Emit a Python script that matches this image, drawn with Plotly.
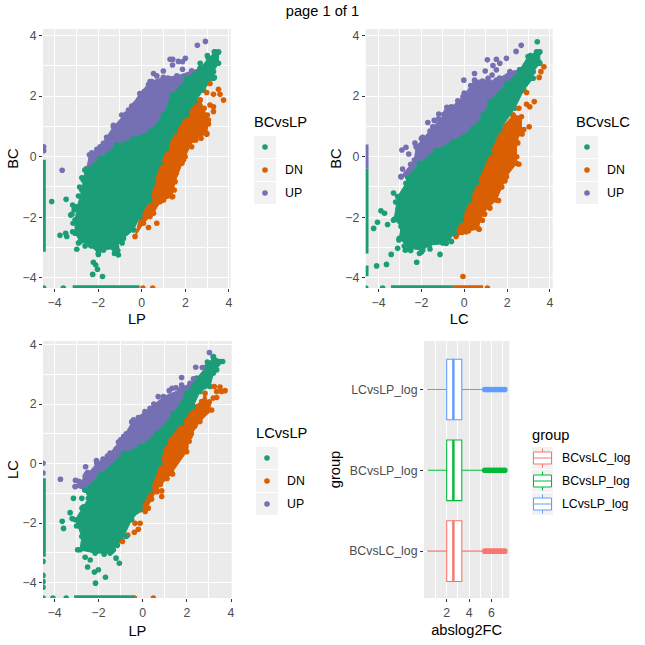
import plotly.graph_objects as go

GREEN, ORANGE, PURPLE = "#1B9E77", "#D95F02", "#7570B3"
TYPE_LABELS = ["", "DN", "UP"]
GROUPS = ["BCvsLC_log", "BCvsLP_log", "LCvsLP_log"]
GROUP_COLORS = ["#F8766D", "#00BA38", "#619CFF"]

# ---- Panel 1: BC vs LP, outlines of the dense clouds and stray points
P1_GREEN_EDGE = [(-2.60,-.44),(-1.91,-.06),(-1.15,.39),(-.38,.61),(.38,.83),(.99,1.38),(1.38,2.04),(2.06,2.59),(2.68,2.92),(3.06,3.25),(3.36,3.47),(3.52,3.47),(3.52,3.09),(3.29,2.81),(3.29,2.59),(2.83,2.20),(2.45,1.82),(2.06,1.38),(1.53,.83),(1.15,.28),(.84,-.22),(.54,-.88),(.38,-1.43),(-.08,-1.98),(-.38,-2.42),(-.84,-2.70),(-1.15,-2.98),(-1.07,-3.25),(-1.30,-3.03),(-1.76,-3.09),(-1.99,-3.20),(-2.37,-2.92),(-2.83,-2.81),(-3.06,-2.53),(-3.06,-2.09),(-2.95,-1.65),(-2.75,-1.10),(-2.68,-.77)]
P1_PURPLE_EDGE = [(-2.52,-.39),(-2.40,.06),(-1.91,.33),(-1.30,.99),(-.61,1.54),(-.08,2.09),(.38,2.48),(.99,2.62),(1.61,2.67),(2.29,2.84),(2.68,2.92),(2.06,2.59),(1.38,2.04),(.99,1.38),(.38,.83),(-.38,.61),(-1.15,.39),(-1.91,-.06)]
P1_ORANGE_EDGE = [(2.68,1.87),(3.06,1.21),(2.98,.77),(2.37,.55),(1.91,-.11),(1.53,-.83),(1.38,-1.32),(.84,-1.49),(.54,-1.87),(.08,-2.20),(-.31,-2.64),(-.08,-1.98),(.38,-1.43),(.54,-.88),(.84,-.22),(1.15,.28),(1.53,.83),(2.06,1.38),(2.45,1.82)]
P1_GREEN_PTS = [(-4.13,-1.48),(-3.47,-1.41),(-3.75,-2.60),(-3.49,-2.53),(-3.44,-2.64),(-3.26,-1.93),(-2.98,-3.06),(-2.22,-3.49),(-2.11,-3.58),(-2.03,-3.72),(-2.25,-3.89),(-1.80,-3.96),(-1.99,-3.23),(-1.22,-3.14),(-3.17,-1.60),(-3.17,-2.48),(3.01,3.34),(3.33,3.47),(3.52,3.45),(2.68,3.09),(3.33,2.62),(-3.6,-4.34),(-4.5,-4.34),
                 (-2.9,-2.85),(-2.6,-2.95),(-2.3,-2.95),(-2.0,-3.05),(-1.75,-2.95),(-1.5,-2.95),(-1.25,-3.2),(-1.1,-3.1),(-.9,-2.85),(-3.15,-2.2),(-3.2,-1.9),(-3.1,-1.75),(-2.9,-1.3),(-2.85,-1.0),(-2.75,-.7)]
P1_PURPLE_PTS = [(2.55,3.68),(2.92,3.81),(1.30,3.22),(1.42,3.22),(1.68,3.15),(1.41,3.03),(2.0,3.25),(1.87,3.14),(1.87,2.89),(.99,2.83),(.54,2.75),(.69,2.67),(-3.65,-.45),(-4.5,.33),(-4.5,.2),
                  (-2.29,.13),(-2.06,.24),(-1.76,.44),(-1.61,.64),(-1.30,1.04),(-.92,1.38),(-.72,1.41),(-.46,1.67),(-.31,1.74),(-.08,2.08),(.11,2.15),(.31,2.38),(.46,2.48),(.69,2.34),(1.2,2.6),(1.4,2.5)]
P1_ORANGE_PTS = [(2.98,2.12),(3.29,2.06),(3.52,2.23),(3.59,2.06),(3.75,1.87),(3.29,1.49),(3.13,2.42),(3.29,1.65),(.69,-2.20),(.31,-2.34),(.05,-4.34),(.50,-4.34),
                  (2.86,1.60),(3.13,1.71),(3.01,1.38),(2.90,1.19),(3.06,1.08),(2.68,.94),(2.98,.74),(2.72,.61),(2.48,.55),(2.29,.33),(2.03,.28),(1.99,0),(1.84,-.22),(1.61,-.22),(1.58,-.55),(1.38,-.83),(1.49,-1.10),(1.42,-1.32),(1.07,-1.27),(1.0,-1.43),(.69,-1.54),(.46,-1.76),(.38,-1.98)]
P1_GREEN_LEFT_RAIL = [(-4.53,-.1),(-4.53,-3.14)]
P1_GREEN_BOTTOM_RAIL = [(-3.17,-4.34),(-.1,-4.34)]

# ---- Panel 2: BC vs LC
P2_GREEN_EDGE = [(-2.64,-.66),(-2.09,-.22),(-1.31,.22),(-.53,.50),(.41,.94),(.88,1.38),(1.19,1.82),(1.97,2.42),(2.59,2.87),(2.98,3.31),(3.38,3.47),(3.53,3.47),(3.53,3.09),(3.22,2.81),(3.22,2.59),(2.78,2.20),(2.36,1.60),(1.66,.88),(1.19,.11),(.56,-.88),(.25,-1.43),(-.14,-2.09),(-.45,-2.53),(-.84,-2.87),(-1.63,-2.92),(-1.94,-3.09),(-2.56,-3.03),(-3.03,-2.70),(-2.95,-2.31),(-3.27,-2.07),(-3.11,-1.32),(-2.72,-.88)]
P2_PURPLE_EDGE = [(-2.95,-.66),(-2.33,-.11),(-2.25,.33),(-1.47,.99),(-.84,1.49),(-.06,1.98),(.48,2.53),(1.50,2.53),(2.13,2.81),(2.59,2.87),(1.97,2.42),(1.19,1.82),(.88,1.38),(.41,.94),(-.53,.50),(-1.31,.22),(-2.09,-.22),(-2.64,-.66)]
P2_ORANGE_EDGE = [(2.28,1.38),(2.67,1.32),(2.67,.83),(2.44,.50),(2.44,-.22),(1.97,-.66),(1.50,-1.43),(.88,-1.87),(.64,-2.37),(.09,-2.48),(-.38,-2.64),(-.45,-2.53),(-.14,-2.09),(.25,-1.43),(.56,-.88),(1.19,.11),(1.66,.88)]
P2_GREEN_PTS = [(-3.89,-1.79),(-3.72,-1.87),(-4.05,-2.17),(-4.23,-2.37),(-3.58,-2.24),(-4.09,-3.61),(-3.63,-3.56),(-3.41,-3.23),(-2.22,-3.49),(-1.13,-3.23),(-2.09,-3.20),(-2.75,-3.09),(-3.11,-3.03),(3.41,3.80),(3.09,3.34),(3.38,3.45),(3.50,3.45),(3.50,3.12),(-3.81,-4.34),(-4.6,-4.34),
                 (-3.2,-1.5),(-3.3,-1.2),(-3.05,-2.75),(-2.8,-2.95),(-2.5,-3.1),(-2.0,-3.15),(-1.6,-3.05),(-1.0,-2.85),(-.6,-2.8),(-3.3,-2.1)]
P2_PURPLE_PTS = [(2.66,3.68),(2.42,3.48),(1.08,3.20),(1.50,3.22),(1.66,3.09),(1.97,3.25),(1.34,3.01),(1.50,2.87),(.98,2.83),(.48,2.75),(-.02,2.53),(1.11,2.59),(-2.91,.22),(-2.72,.31),(-2.59,.09),(-2.88,-.41),(-1.94,.64),(-1.70,1.13),(-.81,1.63),(-1.19,1.41),
                  (-2.3,.45),(-2.0,.6),(-1.6,.85),(-1.4,1.2),(-1.2,1.25),(-.95,1.4),(-.6,1.65),(-.3,1.85),(0,2.1),(.3,2.35),(.6,2.45),(.85,2.5),(1.3,2.7),(1.65,2.6),(2.1,2.7),(-2.5,-.25),(-2.7,-.55)]
P2_ORANGE_PTS = [(3.72,2.97),(3.58,2.81),(3.50,2.62),(2.91,2.12),(3.27,1.82),(2.91,1.73),(3.06,1.65),(3.03,.99),(2.78,.90),(2.55,1.60),(-.06,-3.96),(1.08,-4.34),
                  (2.55,1.25),(2.5,.95),(2.7,.75),(2.35,.65),(2.5,.45),(2.45,.0),(2.55,-.25),(2.2,-.3),(1.9,-.8),(1.75,-1.0),(1.6,-1.45),(1.2,-1.7),(.95,-1.9),(.85,-2.1),(.7,-2.4),(.4,-2.35),(.2,-2.45),(-.1,-2.5)]
P2_GREEN_LEFT_RAIL = [(-4.6,-.4),(-4.6,-3.2)]
P2_GREEN_LEFT_RAIL_LOW = [(-4.6,-3.6),(-4.6,-3.95)]
P2_PURPLE_LEFT_RAIL = [(-4.6,.4),(-4.6,-.4)]
P2_GREEN_BOTTOM_RAIL = [(-3.42,-4.34),(-.53,-4.34)]
P2_ORANGE_BOTTOM_RAIL = [(-.53,-4.34),(.88,-4.34)]

# ---- Panel 3: LC vs LP
P3_GREEN_EDGE = [(-2.61,-.89),(-1.93,-.38),(-.87,.35),(-.12,.57),(.63,1.02),(1.39,1.69),(1.99,2.36),(2.44,2.87),(2.90,3.26),(3.20,3.60),(3.62,3.43),(3.20,3.04),(3.05,2.59),(2.59,2.42),(2.29,1.92),(1.76,1.36),(1.01,.68),(.78,.01),(.33,-.89),(-.12,-1.56),(-.50,-1.89),(-.95,-2.57),(-1.48,-3.01),(-2.16,-3.01),(-2.84,-2.90),(-2.76,-2.45),(-3.06,-1.89),(-2.68,-1.45),(-2.46,-1.17)]
P3_PURPLE_EDGE = [(-3.06,-.77),(-2.61,-.44),(-2.08,.01),(-1.48,.35),(-.87,.91),(-.42,1.47),(.33,1.86),(.94,2.25),(1.69,2.48),(2.14,2.70),(2.44,2.87),(1.99,2.36),(1.39,1.69),(.63,1.02),(-.12,.57),(-.87,.35),(-1.93,-.38),(-2.61,-.89)]
P3_ORANGE_EDGE = [(2.67,2.08),(2.82,2.36),(2.97,1.97),(3.12,1.80),(2.59,1.41),(2.14,.91),(1.99,.40),(1.31,-.32),(.63,-.89),(.11,-1.61),(-.27,-1.61),(.33,-.89),(.78,.01),(1.01,.68),(1.76,1.36),(2.29,1.92)]
P3_GREEN_PTS = [(-3.65,-1.94),(-3.59,-2.18),(-3.14,-1.17),(-3.29,-1.65),(-2.76,-1.17),(-2.61,-3.15),(-2.38,-3.24),(-2.50,-3.48),(-2.01,-3.57),(-2.19,-3.65),(-2.14,-4.02),(-1.69,-3.82),(-1.21,-3.18),(-1.06,-3.35),(-1.33,-2.90),(3.20,3.57),(2.93,3.41),(3.50,3.43),(3.35,3.15),(-4.52,-3.29),(-4.52,-3.76),(-4.52,-3.97),(-4.52,-4.16),(-4.52,-4.52),(-4.07,-4.52),(-3.47,-4.52),
                 (-3.2,-1.85),(-3.0,-2.1),(-2.95,-2.9),(-2.65,-2.85),(-2.4,-2.85),(-2.1,-2.95),(-1.75,-3.05),(-1.4,-2.95),(-1.15,-2.75),(-.75,-2.45),(-2.75,-1.5)]
P3_PURPLE_PTS = [(3.02,3.73),(2.40,3.24),(2.70,3.23),(1.76,2.89),(1.33,2.53),(1.76,2.64),(-3.73,-.53),(-3.05,-.56),(-2.59,-.11),(-2.56,-.36),(-1.10,.72),(-4.52,.01),(-4.52,-.32),
                  (-2.9,-.6),(-2.5,-.3),(-2.1,.1),(-1.8,.15),(-1.6,.25),(-1.2,.5),(-1.0,.8),(-.75,1.0),(-.5,1.4),(-.2,1.55),(.1,1.75),(.5,2.0),(.7,2.25),(1.2,2.45),(1.5,2.55),(1.85,2.55),(2.3,2.85)]
P3_ORANGE_PTS = [(3.24,2.59),(3.73,2.45),(3.50,2.57),(3.35,2.42),(3.57,2.42),(3.20,2.20),(3.35,2.22),(3.02,2.08),(.86,-.92),(.86,-1.11),(-.12,-2.01),(-.35,-2.01),(-.20,-2.21),(-.38,-2.31),(-.92,-2.62),(-.68,-2.40),(.48,-4.52),(-.38,-4.52),
                  (2.9,1.75),(2.6,1.55),(2.35,1.25),(2.2,1.0),(2.1,.75),(1.95,.55),(1.7,.3),(1.5,.05),(1.35,-.35),(1.1,-.5),(.8,-.7),(.65,-.95),(.4,-1.2),(.25,-1.5)]
P3_GREEN_LEFT_RAIL = [(-4.52,-.49),(-4.52,-3.13)]
P3_GREEN_BOTTOM_RAIL = [(-3.11,-4.52),(-.38,-4.52)]

# ---- Panel 4: box plot statistics, in the order of GROUPS
BOX_LOW = [0.26, 0.30, 0.26]
BOX_Q1 = [2.0, 2.0, 2.0]
BOX_MED = [2.6, 2.6, 2.6]
BOX_Q3 = [3.35, 3.35, 3.35]
BOX_HIGH = [5.2, 5.2, 5.2]
OUTLIERS_BCvsLC = [5.4, 5.6, 5.8, 6.0, 6.2, 6.4, 6.6, 6.8, 7.0, 7.2]
OUTLIERS_BCvsLP = [5.4, 5.6, 5.8, 6.0, 6.2, 6.4, 6.6, 6.8, 7.0, 7.2]
OUTLIERS_LCvsLP = [5.4, 5.6, 5.8, 6.0, 6.2, 6.4, 6.6, 6.8, 7.0, 7.2]

W = 645
def px(v): return v / W
def py(v): return 1 - v / W

fig = go.Figure()
MS = 5.6

def cloud(edge, color, ax):
    xs = [p[0] for p in edge] + [edge[0][0]]
    ys = [p[1] for p in edge] + [edge[0][1]]
    fig.add_trace(go.Scatter(x=xs, y=ys, xaxis="x" + ax, yaxis="y" + ax, mode="lines+markers", fill="toself",
                             fillcolor=color, line=dict(color=color, width=1), marker=dict(color=color, size=MS),
                             showlegend=False, hoverinfo="skip"))

def pts(points, color, ax):
    fig.add_trace(go.Scatter(x=[p[0] for p in points], y=[p[1] for p in points], xaxis="x" + ax, yaxis="y" + ax,
                             mode="markers", marker=dict(color=color, size=MS), showlegend=False))

def rail(points, color, ax):
    fig.add_trace(go.Scatter(x=[p[0] for p in points], y=[p[1] for p in points], xaxis="x" + ax, yaxis="y" + ax,
                             mode="lines", line=dict(color=color, width=5.6), showlegend=False, hoverinfo="skip"))

for ax, P, O, G, pp, op, gp, rails in [
    ("", P1_PURPLE_EDGE, P1_ORANGE_EDGE, P1_GREEN_EDGE, P1_PURPLE_PTS, P1_ORANGE_PTS, P1_GREEN_PTS,
     [(P1_GREEN_LEFT_RAIL, GREEN), (P1_GREEN_BOTTOM_RAIL, GREEN)]),
    ("2", P2_PURPLE_EDGE, P2_ORANGE_EDGE, P2_GREEN_EDGE, P2_PURPLE_PTS, P2_ORANGE_PTS, P2_GREEN_PTS,
     [(P2_PURPLE_LEFT_RAIL, PURPLE), (P2_GREEN_LEFT_RAIL, GREEN), (P2_GREEN_LEFT_RAIL_LOW, GREEN),
      (P2_GREEN_BOTTOM_RAIL, GREEN), (P2_ORANGE_BOTTOM_RAIL, ORANGE)]),
    ("3", P3_PURPLE_EDGE, P3_ORANGE_EDGE, P3_GREEN_EDGE, P3_PURPLE_PTS, P3_ORANGE_PTS, P3_GREEN_PTS,
     [(P3_GREEN_LEFT_RAIL, GREEN), (P3_GREEN_BOTTOM_RAIL, GREEN)]),
]:
    cloud(P, PURPLE, ax)
    cloud(O, ORANGE, ax)
    cloud(G, GREEN, ax)
    pts(pp, PURPLE, ax)
    pts(op, ORANGE, ax)
    pts(gp, GREEN, ax)
    for r, c in rails:
        rail(r, c, ax)

for i, (g, c, outl) in enumerate(zip(GROUPS, GROUP_COLORS, [OUTLIERS_BCvsLC, OUTLIERS_BCvsLP, OUTLIERS_LCvsLP])):
    fig.add_trace(go.Box(y=[i], q1=[BOX_Q1[i]], median=[BOX_MED[i]], q3=[BOX_Q3[i]], lowerfence=[BOX_LOW[i]],
                         upperfence=[BOX_HIGH[i]], orientation="h", width=0.75, whiskerwidth=0, name=g,
                         line=dict(color=c, width=1.1), fillcolor="white", boxpoints=False, showlegend=False,
                         xaxis="x4", yaxis="y4"))
    fig.add_trace(go.Scatter(x=[BOX_MED[i], BOX_MED[i]], y=[i - 0.375, i + 0.375], mode="lines",
                             line=dict(color=c, width=2.4), xaxis="x4", yaxis="y4", showlegend=False, hoverinfo="skip"))
    fig.add_trace(go.Scatter(x=outl, y=[i] * len(outl), mode="markers", marker=dict(color=c, size=MS),
                             xaxis="x4", yaxis="y4", showlegend=False))

FONT = "Liberation Sans, Arial, sans-serif"
TICKF = dict(size=12.3, color="#4D4D4D", family=FONT)
TITLEF = dict(size=14.67, color="black", family=FONT)

def axis(rng, dom, title, standoff, major=2, minorvals=(-3, -1, 1, 3)):
    return dict(range=rng, domain=dom, title=dict(text=title, font=TITLEF, standoff=standoff),
                tickmode="array", tickvals=[-4, -2, 0, 2, 4], ticks="outside", ticklen=3, tickwidth=1, tickcolor="#333333",
                tickfont=TICKF, showgrid=True, gridcolor="white", gridwidth=1.05, zeroline=False, showline=False,
                minor=dict(tickmode="array", tickvals=list(minorvals), showgrid=True, gridcolor="white", gridwidth=0.55, ticks=""),
                automargin=False)

xa1 = axis([-4.53, 4.08], [px(43), px(230.7)], "LP", 4); xa1["anchor"] = "y"
ya1 = axis([-4.34, 4.22], [py(288), py(29)], "BC", 0); ya1["anchor"] = "x"
xa2 = axis([-4.6, 4.13], [px(365.7), px(552.7)], "LC", 4); xa2["anchor"] = "y2"
ya2 = axis([-4.34, 4.22], [py(288), py(29)], "BC", 0); ya2["anchor"] = "x2"
xa3 = axis([-4.52, 4.03], [px(43), px(231.7)], "LP", 6); xa3["anchor"] = "y3"
ya3 = axis([-4.52, 4.12], [py(598), py(341)], "LC", 0); ya3["anchor"] = "x3"
xa4 = axis([-0.03, 7.6], [px(424), px(509.3)], "abslog2FC", 5.5, minorvals=(1, 3, 5, 7)); xa4["anchor"] = "y4"
xa4["tickvals"] = [2, 4, 6]
ya4 = axis([-0.58, 2.6], [py(598), py(341)], "group", 4.5, minorvals=()); ya4["anchor"] = "x4"
ya4["tickvals"] = [0, 1, 2]; ya4["ticktext"] = GROUPS

shapes, ann = [], []

def text(x, y, s, size=12.3):
    ann.append(dict(xref="paper", yref="paper", x=px(x), y=py(y), text=s, showarrow=False, xanchor="left", yanchor="middle",
                    xshift=-1.5, font=dict(size=size, color="black", family=FONT)))

def rect(x0, y0, x1, y1, **k):
    shapes.append(dict(type="rect", xref="paper", yref="paper", x0=px(x0), x1=px(x1), y0=py(y0), y1=py(y1), **k))

def key_legend(title, x, y0):
    text(x, y0 - 14, title, 14.67)
    for i, (lab, c) in enumerate(zip(TYPE_LABELS, [GREEN, ORANGE, PURPLE])):
        t = y0 + i * 23
        rect(x + 1, t, x + 23, t + 22, fillcolor="#F2F2F2", line=dict(width=0))
        cx, cy = x + 12, t + 11
        shapes.append(dict(type="circle", xref="paper", yref="paper", x0=px(cx - 2.8), x1=px(cx + 2.8),
                           y0=py(cy + 2.8), y1=py(cy - 2.8), fillcolor=c, line=dict(width=0)))
        if lab:
            text(x + 31, cy, lab)

key_legend("BCvsLP", 253, 136)
key_legend("BCvsLC", 575, 136)
key_legend("LCvsLP", 255, 447)

text(531, 435, "group", 14.67)
for i, (g, c) in enumerate(zip(GROUPS, GROUP_COLORS)):
    t = 447 + i * 23
    rect(532, t, 553, t + 22, fillcolor="#F2F2F2", line=dict(width=0))
    rect(533.5, t + 5, 551.5, t + 17, fillcolor="white", line=dict(color=c, width=1))
    for a, b, e, f in [(533.5, 551.5, t + 11, t + 11), (542.5, 542.5, t + 1.5, t + 5), (542.5, 542.5, t + 17, t + 20.5)]:
        shapes.append(dict(type="line", xref="paper", yref="paper", x0=px(a), x1=px(b), y0=py(e), y1=py(f), line=dict(color=c, width=1)))
    text(561, t + 11, g)

fig.update_layout(
    width=645, height=645, margin=dict(l=0, r=0, t=0, b=0), autosize=False,
    paper_bgcolor="white", plot_bgcolor="#EBEBEB", showlegend=False,
    font=dict(family=FONT),
    title=dict(text="page 1 of 1", x=0.5, xanchor="center", y=py(11), yanchor="middle", font=dict(size=14.67, color="black", family=FONT)),
    xaxis=xa1, yaxis=ya1, xaxis2=xa2, yaxis2=ya2, xaxis3=xa3, yaxis3=ya3, xaxis4=xa4, yaxis4=ya4,
    shapes=shapes, annotations=ann,
)
fig.write_html("out.html", post_script="document.body.style.margin='0';", config={"displayModeBar": False})
